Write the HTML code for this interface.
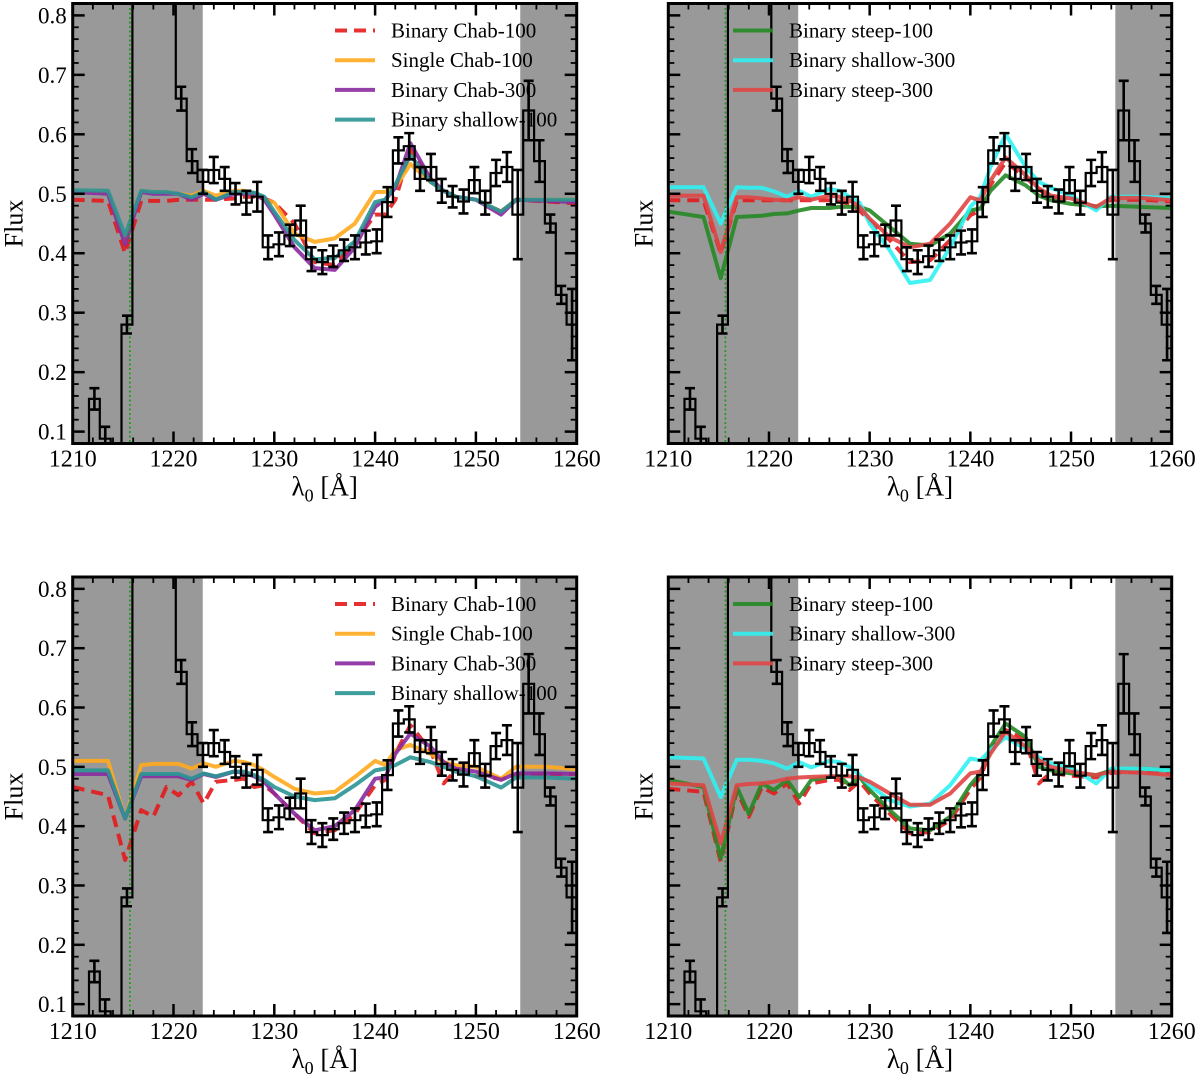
<!DOCTYPE html>
<html><head><meta charset="utf-8"><style>
html,body{margin:0;padding:0;background:#fff}
svg text{font-family:"Liberation Serif",serif;fill:#000}
</style></head><body>
<svg id="fig" width="1200" height="1076" viewBox="0 0 1200 1076" xmlns="http://www.w3.org/2000/svg"></svg>
<script>
// ---- data ----
const binStart = 1209.46;
const binWidth = 1.077;
const fluxBins = [0.0,0.0,0.155,0.088,0.0,0.28,1.6,1.6,1.4,1.0,0.66,0.555,0.52,0.54,0.525,0.50,0.485,0.495,0.41,0.415,0.43,0.455,0.39,0.385,0.395,0.405,0.41,0.418,0.42,0.486,0.573,0.58,0.525,0.545,0.505,0.495,0.487,0.523,0.485,0.535,0.545,0.465,0.64,0.555,0.45,0.33,0.28];
const fluxErr  = [0.02,0.02,0.018,0.02,0.02,0.015,0.02,0.02,0.02,0.02,0.02,0.02,0.02,0.022,0.02,0.018,0.02,0.025,0.02,0.02,0.018,0.025,0.02,0.02,0.018,0.018,0.02,0.02,0.02,0.025,0.022,0.022,0.02,0.022,0.02,0.018,0.02,0.022,0.02,0.022,0.025,0.075,0.05,0.035,0.015,0.015,0.06];
const modelWave = [1210,1213.5,1215.2,1216.8,1218,1219.3,1220.5,1221.8,1223,1224.2,1226,1227,1228,1229,1230,1232,1234,1236,1238,1240,1241,1242,1243.5,1245.5,1246.8,1248,1250,1252.5,1254,1257,1260];
// top-left
const tlBinaryChab100 = [0.49,0.488,0.40,0.488,0.488,0.488,0.49,0.49,0.49,0.49,0.492,0.495,0.495,0.492,0.485,0.45,0.385,0.38,0.418,0.465,0.465,0.49,0.575,0.525,0.505,0.495,0.49,0.47,0.49,0.487,0.484];
const tlSingleChab100 = [0.505,0.503,0.42,0.505,0.503,0.503,0.50,0.497,0.505,0.497,0.505,0.505,0.50,0.49,0.485,0.433,0.419,0.425,0.45,0.503,0.503,0.51,0.55,0.52,0.505,0.495,0.49,0.47,0.49,0.49,0.49];
const tlBinaryChab300 = [0.503,0.50,0.415,0.503,0.50,0.50,0.50,0.49,0.50,0.49,0.50,0.50,0.50,0.49,0.465,0.41,0.375,0.372,0.41,0.478,0.49,0.51,0.585,0.525,0.505,0.495,0.49,0.465,0.49,0.488,0.486];
const tlBinaryShallow100 = [0.506,0.505,0.43,0.505,0.503,0.503,0.50,0.494,0.503,0.49,0.503,0.503,0.502,0.495,0.47,0.422,0.39,0.392,0.42,0.486,0.49,0.515,0.565,0.52,0.505,0.495,0.49,0.47,0.49,0.49,0.49];
// top-right
const trBinarySteep100 = [0.47,0.461,0.358,0.461,0.462,0.463,0.466,0.467,0.472,0.476,0.476,0.478,0.478,0.478,0.472,0.444,0.416,0.413,0.433,0.472,0.475,0.505,0.531,0.514,0.497,0.489,0.483,0.479,0.48,0.478,0.476];
const trBinaryShallow300 = [0.511,0.511,0.45,0.511,0.51,0.51,0.504,0.495,0.505,0.495,0.508,0.505,0.495,0.485,0.45,0.405,0.35,0.355,0.41,0.478,0.495,0.545,0.60,0.545,0.52,0.51,0.497,0.472,0.495,0.495,0.492];
const trBinarySteep300 = [0.497,0.497,0.402,0.494,0.494,0.492,0.49,0.489,0.494,0.49,0.497,0.495,0.489,0.478,0.458,0.427,0.41,0.416,0.45,0.494,0.489,0.522,0.561,0.531,0.509,0.497,0.492,0.478,0.493,0.493,0.489];
const trBinaryChab100 = [0.489,0.489,0.40,0.489,0.489,0.489,0.489,0.489,0.489,0.489,0.489,0.487,0.483,0.472,0.455,0.422,0.385,0.388,0.422,0.464,0.472,0.515,0.553,0.528,0.507,0.495,0.49,0.476,0.49,0.49,0.487];
// bottom-left
const blBinaryChab100 = [0.466,0.452,0.343,0.427,0.416,0.466,0.452,0.475,0.438,0.475,0.478,0.48,0.466,0.469,0.455,0.421,0.388,0.393,0.421,0.469,0.478,0.522,0.57,0.528,0.472,0.494,0.484,0.48,0.485,0.488,0.488];
const blSingleChab100 = [0.51,0.51,0.413,0.503,0.505,0.505,0.505,0.497,0.506,0.50,0.51,0.508,0.503,0.494,0.483,0.463,0.455,0.458,0.483,0.51,0.503,0.528,0.537,0.522,0.508,0.503,0.50,0.48,0.50,0.50,0.496];
const blBinaryChab300 = [0.488,0.488,0.413,0.484,0.484,0.484,0.484,0.478,0.488,0.483,0.492,0.49,0.484,0.475,0.455,0.421,0.393,0.40,0.427,0.48,0.482,0.522,0.556,0.534,0.508,0.497,0.492,0.478,0.489,0.489,0.488];
const blBinaryShallow100 = [0.494,0.494,0.413,0.488,0.488,0.488,0.488,0.48,0.489,0.484,0.492,0.492,0.486,0.478,0.466,0.45,0.444,0.447,0.469,0.494,0.497,0.503,0.516,0.508,0.50,0.492,0.484,0.465,0.482,0.482,0.48];
// bottom-right
const brBinarySteep100 = [0.478,0.466,0.346,0.466,0.421,0.472,0.461,0.478,0.449,0.478,0.483,0.484,0.469,0.483,0.461,0.427,0.396,0.393,0.416,0.469,0.489,0.534,0.573,0.55,0.50,0.494,0.489,0.486,0.494,0.497,0.494];
const brBinaryShallow300 = [0.516,0.514,0.449,0.512,0.512,0.51,0.506,0.497,0.508,0.499,0.51,0.508,0.50,0.486,0.469,0.444,0.433,0.438,0.469,0.514,0.511,0.528,0.55,0.53,0.516,0.506,0.499,0.472,0.497,0.497,0.494];
const brBinarySteep300 = [0.472,0.469,0.371,0.469,0.471,0.472,0.475,0.48,0.482,0.483,0.484,0.484,0.484,0.482,0.475,0.455,0.436,0.436,0.455,0.489,0.492,0.522,0.559,0.534,0.511,0.50,0.492,0.486,0.492,0.49,0.486];
const brBinaryChab100 = [0.463,0.458,0.34,0.46,0.416,0.466,0.455,0.472,0.438,0.472,0.478,0.478,0.461,0.476,0.455,0.421,0.388,0.39,0.41,0.462,0.482,0.528,0.562,0.545,0.472,0.49,0.485,0.482,0.49,0.492,0.49];
const xTicks = [1210,1220,1230,1240,1250,1260];
const yTicks = [0.1,0.2,0.3,0.4,0.5,0.6,0.7,0.8];
const maskRanges = [[1210,1222.9],[1254.4,1260]];
const lyaLine = 1215.67;

// ---- drawing ----
const NS = "http://www.w3.org/2000/svg";
const svg = document.getElementById('fig');
function mk(tag, attrs, parent){ const e=document.createElementNS(NS,tag); for(const k in attrs) e.setAttribute(k,attrs[k]); (parent||svg).appendChild(e); return e; }

const RED='#e41a1c', ORANGE='#ffaa1d', PURPLE='#8a2a9e', TEAL='#2a9393', GREEN='#258a25', CYAN='#2ff2f2', RED2='#e04545';

const panels = [
 {id:'top-left', L:72.7, R:576.7, T:3.5, B:443.5, ylabels:true, legendX:335,
  series:[
   {name:'Binary Chab-100', data:tlBinaryChab100, color:RED, dash:true},
   {name:'Single Chab-100', data:tlSingleChab100, color:ORANGE},
   {name:'Binary Chab-300', data:tlBinaryChab300, color:PURPLE},
   {name:'Binary shallow-100', data:tlBinaryShallow100, color:TEAL}],
  legend:[0,1,2,3]},
 {id:'top-right', L:668.3, R:1171.7, T:3.5, B:443.5, ylabels:false, legendX:733,
  series:[
   {name:'Binary Chab-100', data:trBinaryChab100, color:RED, dash:true, hidden:true},
   {name:'Binary steep-100', data:trBinarySteep100, color:GREEN},
   {name:'Binary shallow-300', data:trBinaryShallow300, color:CYAN},
   {name:'Binary steep-300', data:trBinarySteep300, color:RED2}],
  legend:[1,2,3]},
 {id:'bottom-left', L:72.7, R:576.7, T:577, B:1016, ylabels:true, legendX:335,
  series:[
   {name:'Binary Chab-100', data:blBinaryChab100, color:RED, dash:true},
   {name:'Single Chab-100', data:blSingleChab100, color:ORANGE},
   {name:'Binary Chab-300', data:blBinaryChab300, color:PURPLE},
   {name:'Binary shallow-100', data:blBinaryShallow100, color:TEAL}],
  legend:[0,1,2,3]},
 {id:'bottom-right', L:668.3, R:1171.7, T:577, B:1016, ylabels:false, legendX:733,
  series:[
   {name:'Binary Chab-100', data:brBinaryChab100, color:RED, dash:true, hidden:true},
   {name:'Binary steep-100', data:brBinarySteep100, color:GREEN},
   {name:'Binary shallow-300', data:brBinaryShallow300, color:CYAN},
   {name:'Binary steep-300', data:brBinarySteep300, color:RED2}],
  legend:[1,2,3]}
];

panels.forEach((p,pi)=>{
  const X0=1210,X1=1260,Y0=0.08,Y1=0.82;
  const sx=v=>p.L+(v-X0)/(X1-X0)*(p.R-p.L);
  const sy=v=>p.B-(v-Y0)/(Y1-Y0)*(p.B-p.T);
  const g=mk('g',{});
  
  
  const cid='clip'+pi;
  const cp=mk('clipPath',{id:cid},g); mk('rect',{x:p.L,y:p.T,width:p.R-p.L,height:p.B-p.T},cp);
  const plot=mk('g',{'clip-path':'url(#'+cid+')'},g);
  maskRanges.forEach((m,i)=>{
    const r=mk('rect',{x:sx(m[0]),y:p.T,width:sx(m[1])-sx(m[0]),height:p.B-p.T,fill:'#999999'},plot);
    
    
  });
  p.series.forEach(s=>{
    const d=modelWave.map((w,i)=>(i?'L':'M')+sx(w).toFixed(1)+','+sy(s.data[i]).toFixed(1)).join('');
    const path=mk('path',{d:d,fill:'none',stroke:s.color,'stroke-width':4,'stroke-opacity':0.9,'stroke-linejoin':'round'},plot);
    if(s.dash) path.setAttribute('stroke-dasharray','12,7');
    
    
  });
  const ly=mk('line',{x1:sx(lyaLine),x2:sx(lyaLine),y1:p.T,y2:p.B,stroke:'#1a9a1a','stroke-width':1.6,'stroke-dasharray':'2,2.5'},plot);
  
  
  let d='';
  fluxBins.forEach((v,i)=>{
    const a=sx(binStart+i*binWidth), b=sx(binStart+(i+1)*binWidth), y=sy(v);
    d+=(i?'L':'M')+a.toFixed(1)+','+y.toFixed(1)+'L'+b.toFixed(1)+','+y.toFixed(1);
  });
  const h=mk('path',{d:d,fill:'none',stroke:'#000','stroke-width':2.2},plot);
  
  
  fluxBins.forEach((v,i)=>{
    const c=sx(binStart+(i+0.5)*binWidth), y1=sy(v-fluxErr[i]), y2=sy(v+fluxErr[i]);
    const eb=mk('path',{d:`M${c},${y1}L${c},${y2}M${c-5},${y1}L${c+5},${y1}M${c-5},${y2}L${c+5},${y2}`,stroke:'#000','stroke-width':2.6,fill:'none'},plot);
    
    
  });
  const tk=mk('g',{stroke:'#000'},g);
  for(let v=1210;v<=1260;v+=2){
    const major=(v%10===0), len=major?12:6, x=sx(v);
    mk('line',{x1:x,x2:x,y1:p.B,y2:p.B-len,'stroke-width':major?2.5:1.8},tk);
    mk('line',{x1:x,x2:x,y1:p.T,y2:p.T+len,'stroke-width':major?2.5:1.8},tk);
  }
  for(let k=5;k<=41;k++){
    const v=k*0.02, major=(k%5===0), len=major?12:6, y=sy(v);
    mk('line',{x1:p.L,x2:p.L+len,y1:y,y2:y,'stroke-width':major?2.5:1.8},tk);
    mk('line',{x1:p.R,x2:p.R-len,y1:y,y2:y,'stroke-width':major?2.5:1.8},tk);
  }
  const fr=mk('rect',{x:p.L,y:p.T,width:p.R-p.L,height:p.B-p.T,fill:'none',stroke:'#000','stroke-width':3},g);
  
  
  xTicks.forEach(v=>{
    const t=mk('text',{x:sx(v),y:p.B+23,'text-anchor':'middle','font-size':24},g);
    t.textContent=v;
    
    
  });
  if(p.ylabels) yTicks.forEach(v=>{
    const t=mk('text',{x:p.L-6,y:sy(v)+8,'text-anchor':'end','font-size':23},g);
    t.textContent=v.toFixed(1);
    
    
  });
  const xl=mk('text',{x:(p.L+p.R)/2,y:p.B+52,'text-anchor':'middle','font-size':27},g);
  xl.innerHTML='λ<tspan font-size="18" dy="6">0</tspan><tspan dy="-6"> [Å]</tspan>';
  
  
  const yx=p.L-(p.ylabels?50:16), yc=(p.T+p.B)/2;
  const yl=mk('text',{x:yx,y:yc,'text-anchor':'middle','font-size':26,transform:`rotate(-90 ${yx} ${yc})`},g);
  yl.textContent='Flux';
  
  
  p.legend.forEach((si,j)=>{
    const s=p.series[si], y=p.T+27+j*29.7;
    const le=mk('g',{},g);
    
    
    const ln=mk('line',{x1:p.legendX,x2:p.legendX+40,y1:y,y2:y,stroke:s.color,'stroke-width':4,'stroke-opacity':0.9},le);
    if(s.dash) ln.setAttribute('stroke-dasharray','12,7');
    const t=mk('text',{x:p.legendX+56,y:y+7,'font-size':21},le);
    t.textContent=s.name;
  });
});
</script>
</body></html>
